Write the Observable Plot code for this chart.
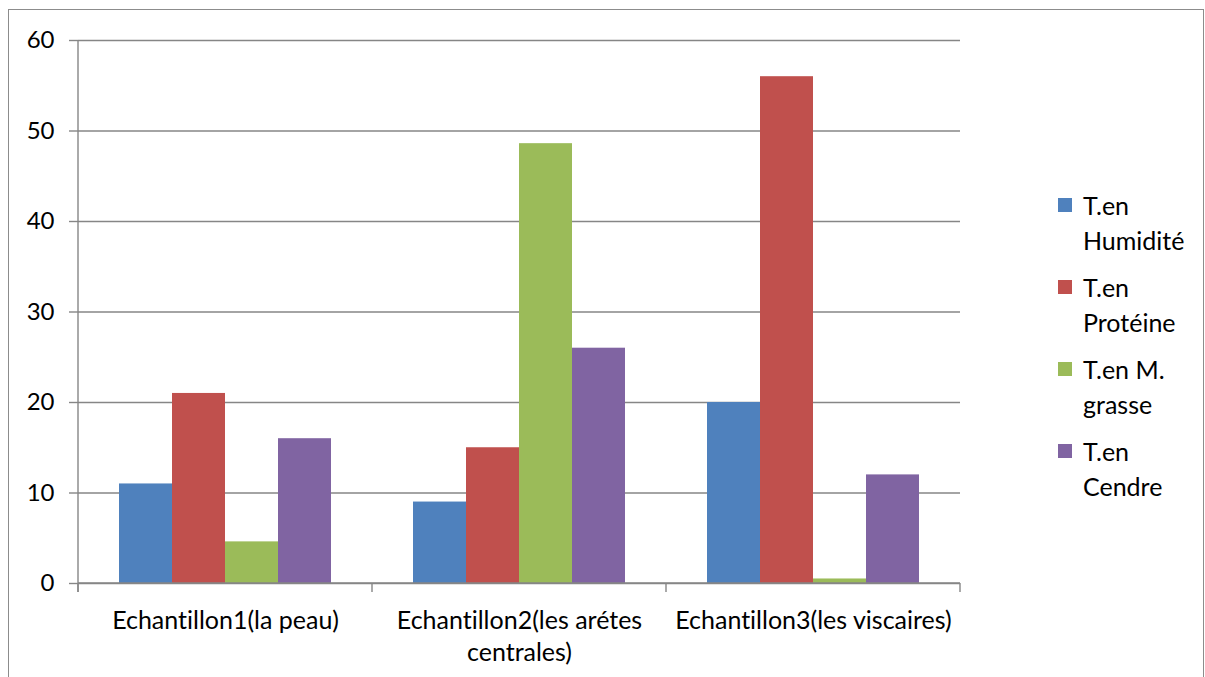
<!DOCTYPE html>
<html>
<head>
<meta charset="utf-8">
<script src="https://cdn.jsdelivr.net/npm/d3@7"></script>
<script src="https://cdn.jsdelivr.net/npm/@observablehq/plot@0.6"></script>
<style>
  body { margin: 0; background: #fff; font-family: Lato, "Open Sans", sans-serif; font-variant-ligatures: none; }
  svg text { font-variant-ligatures: none; }
  #frame { position: absolute; left: 8px; top: 9px; width: 1196px; height: 740px;
           border: 1.5px solid #8c8c8c; box-sizing: border-box; }
  #chart { position: absolute; left: 0; top: 0; }
  #legend { position: absolute; left: 1058px; top: 188px; width: 118px;
            font-size: 25px; line-height: 34.5px; color: #000; }
  .item { position: relative; padding-left: 25px; margin-bottom: 13px; }
  .sw { position: absolute; left: 0; top: 10px; width: 14px; height: 14px; }
</style>
</head>
<body>
<div id="frame"></div>
<div id="chart"></div>
<div id="legend"></div>
<script>
// Samples (categories) and their wrapped axis labels
const categories = ["Echantillon1(la peau)", "Echantillon2(les arétes centrales)", "Echantillon3(les viscaires)"];
const categoryLabels = ["Echantillon1(la peau)", "Echantillon2(les arétes\ncentrales)", "Echantillon3(les viscaires)"];

// Measured contents per sample
const series = ["T.en Humidité", "T.en Protéine", "T.en M. grasse", "T.en Cendre"];
const humidite = [11, 9, 20];
const proteine = [21, 15, 56];
const grasse = [4.6, 48.6, 0.5];
const cendre = [16, 26, 12];
const colors = ["#4F81BD", "#C0504D", "#9BBB59", "#8064A2"];
const yTicks = [0, 10, 20, 30, 40, 50, 60];

const values = [humidite, proteine, grasse, cendre];
const data = [];
categories.forEach((c, i) => {
  series.forEach((s, j) => data.push({category: c, series: s, value: values[j][i]}));
});

const gridColor = "#868686";
const fontSize = 25;

const plot = Plot.plot({
  width: 1000,
  height: 677,
  marginLeft: 77,
  marginRight: 40,
  marginTop: 40,
  marginBottom: 94,
  style: {fontFamily: "Lato, 'Open Sans', sans-serif", fontSize: fontSize + "px", color: "#000", background: "transparent"},
  fx: {domain: categories, padding: 0, axis: null},
  x: {domain: series, paddingInner: 0, paddingOuter: 0.75, axis: null},
  y: {domain: [0, 60]},
  color: {domain: series, range: colors},
  marks: [
    Plot.gridY(yTicks, {stroke: gridColor, strokeOpacity: 1, strokeWidth: 1.4}),
    Plot.axisY(yTicks, {tickSize: 9, tickPadding: 15, stroke: gridColor, strokeWidth: 1.4, label: null, fontSize: 24, fill: "#000"}),
    Plot.barY(data, {fx: "category", x: "series", y: "value", fill: "series"}),
    Plot.text(categories, {
      fx: d => d,
      text: d => categoryLabels[categories.indexOf(d)],
      frameAnchor: "bottom",
      lineAnchor: "top",
      dy: 23,
      lineHeight: 1.28,
      fontSize,
      fill: "#000"
    })
  ]
});

// Vertical value axis line and the category boundary ticks, placed from the plot's scales
const fx = plot.scale("fx");
const y = plot.scale("y");
const svg = d3.select(plot);
const g = svg.append("g").attr("stroke", gridColor).attr("stroke-width", 1.4);
const y0 = y.apply(0);
const y60 = y.apply(60);
const bounds = categories.map(c => fx.apply(c));
bounds.push(fx.apply(categories[categories.length - 1]) + fx.bandwidth);
g.append("line").attr("x1", bounds[0]).attr("x2", bounds[0]).attr("y1", y60).attr("y2", y0 + 9);
bounds.forEach(b => g.append("line").attr("x1", b).attr("x2", b).attr("y1", y0).attr("y2", y0 + 9));
g.append("line").attr("x1", bounds[0]).attr("x2", bounds[bounds.length - 1]).attr("y1", y0).attr("y2", y0);

document.getElementById("chart").appendChild(plot);

// Legend to the right of the plot
const legend = d3.select("#legend");
series.forEach((s, i) => {
  const item = legend.append("div").attr("class", "item");
  item.append("span").attr("class", "sw").style("background", colors[i]);
  item.append("span").text(s);
});
</script>
</body>
</html>
